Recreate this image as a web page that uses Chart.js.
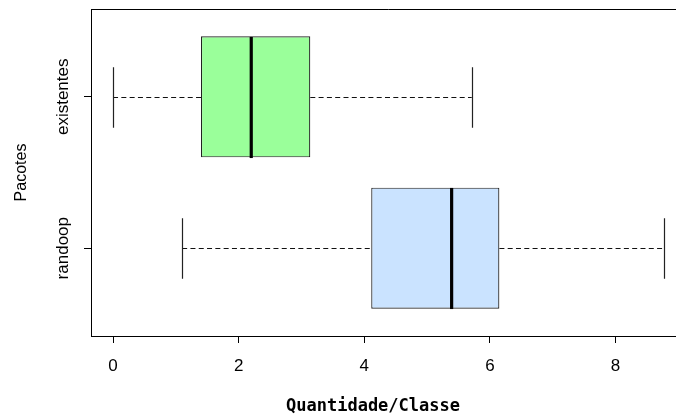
<!DOCTYPE html>
<html>
<head>
<meta charset="utf-8">
<script src="https://cdn.jsdelivr.net/npm/chart.js@4.4.1/dist/chart.umd.min.js"></script>
<style>
  html, body { margin: 0; padding: 0; background: #fff; overflow: hidden; }
  #wrap { width: 690px; height: 415px; }
</style>
</head>
<body>
<div id="wrap"><canvas id="box-chart"></canvas></div>
<script>
// boxplot summary per package (top to bottom)
const categories = ["existentes", "randoop"];
const lowWhisker = [0.0, 1.1];
const q1 = [1.4, 4.11];
const median = [2.2, 5.39];
const q3 = [3.14, 6.15];
const highWhisker = [5.71, 8.77];
const xTicks = [0, 2, 4, 6, 8];

// R puts the groups at 1..n from the bottom
const positions = categories.map((c, i) => categories.length - i);

const tickFont = { family: "'Liberation Sans', Arial, sans-serif", size: 17 };

const whiskers = {
  id: "whiskers",
  afterDatasetsDraw(chart) {
    const { ctx, scales } = chart;
    const x = scales.x;
    const bars = chart.getDatasetMeta(0).data;
    categories.forEach((c, i) => {
      const bar = bars[i];
      const cy = Math.round(bar.y) + 0.5;
      const h = bar.height;
      ctx.save();
      // dashed whiskers
      ctx.strokeStyle = "#111";
      ctx.lineWidth = 1.2;
      ctx.setLineDash([5, 3.3]);
      ctx.beginPath();
      ctx.moveTo(x.getPixelForValue(lowWhisker[i]), cy);
      ctx.lineTo(x.getPixelForValue(q1[i]), cy);
      ctx.moveTo(x.getPixelForValue(q3[i]), cy);
      ctx.lineTo(x.getPixelForValue(highWhisker[i]), cy);
      ctx.stroke();
      // staples
      ctx.setLineDash([]);
      ctx.strokeStyle = "#222";
      ctx.beginPath();
      [lowWhisker[i], highWhisker[i]].forEach((v) => {
        const px = Math.round(x.getPixelForValue(v)) + 0.5;
        ctx.moveTo(px, cy - h / 4);
        ctx.lineTo(px, cy + h / 4);
      });
      ctx.stroke();
      // median
      ctx.strokeStyle = "#000";
      ctx.lineWidth = 3.2;
      const mx = x.getPixelForValue(median[i]);
      ctx.beginPath();
      ctx.moveTo(mx, cy - h / 2);
      ctx.lineTo(mx, cy + h / 2);
      ctx.stroke();
      ctx.restore();
    });
  },
  afterDraw(chart) {
    const { ctx, chartArea } = chart;
    ctx.save();
    // rest of the plot frame
    ctx.strokeStyle = "#000";
    ctx.lineWidth = 1;
    ctx.beginPath();
    const t = Math.round(chartArea.top) + 0.5;
    const r = Math.round(chartArea.right) - 0.5;
    ctx.moveTo(chartArea.left, t);
    ctx.lineTo(r, t);
    ctx.lineTo(r, chartArea.bottom);
    ctx.stroke();
    // x axis title
    ctx.fillStyle = "#000";
    ctx.font = "bold 17px 'DejaVu Sans Mono', monospace";
    ctx.textAlign = "center";
    ctx.textBaseline = "alphabetic";
    ctx.fillText("Quantidade/Classe", 373, 411);
    ctx.restore();
  },
};

document.addEventListener("DOMContentLoaded", function () {
  const el = document.getElementById("box-chart");
  new Chart(el, {
    type: "bar",
    data: {
      datasets: [
        {
          label: "Pacotes",
          data: categories.map((c, i) => ({ x: [q1[i], q3[i]], y: positions[i] })),
          backgroundColor: ["#9AFF9A", "#CAE3FF"],
          borderColor: "#222",
          borderWidth: 1.2,
          borderSkipped: false,
          categoryPercentage: 0.8,
          barPercentage: 1,
        },
      ],
    },
    options: {
      indexAxis: "y",
      responsive: true,
      maintainAspectRatio: false,
      animation: false,
      layout: { padding: { top: 9, right: 4, left: 0, bottom: 0 } },
      scales: {
        x: {
          type: "linear",
          min: -0.3508,
          max: 9.1208,
          afterBuildTicks: (scale) => {
            scale.ticks = xTicks.map((v) => ({ value: v }));
          },
          afterFit: (scale) => {
            scale.height = 79;
          },
          ticks: { color: "#000", font: tickFont, padding: 13 },
          grid: { drawOnChartArea: false, drawTicks: true, tickLength: 7, color: "#000" },
          border: { display: true, color: "#000" },
        },
        y: {
          type: "linear",
          min: 0.42,
          max: 2.58,
          offset: false,
          afterBuildTicks: (scale) => {
            scale.ticks = positions.map((v) => ({ value: v }));
          },
          afterFit: (scale) => {
            scale.width = 91;
          },
          ticks: {
            color: "#000",
            font: tickFont,
            minRotation: 90,
            maxRotation: 90,
            crossAlign: "center",
            padding: -18,
            callback: (v) => categories[categories.length - v],
          },
          grid: { offset: false, drawOnChartArea: false, drawTicks: true, tickLength: 7, color: "#000" },
          border: { display: true, color: "#000" },
          title: {
            display: true,
            text: "Pacotes",
            color: "#000",
            font: { family: "'Liberation Sans', Arial, sans-serif", size: 16 },
            padding: { top: 12, bottom: 0 },
          },
        },
      },
      plugins: {
        legend: { display: false },
        tooltip: { enabled: false },
      },
    },
    plugins: [whiskers],
  });
});
</script>
</body>
</html>
